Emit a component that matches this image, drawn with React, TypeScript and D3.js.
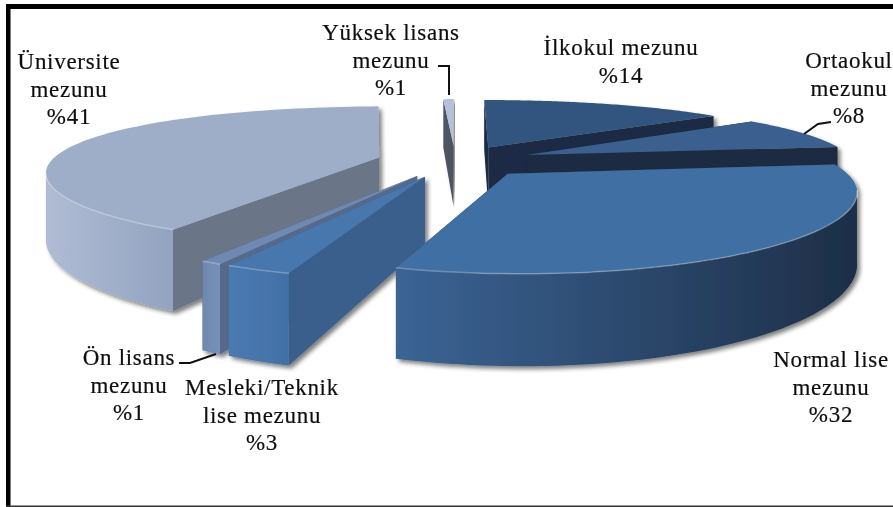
import React from "react";
import * as d3 from "d3";

const categories = ["İlkokul mezunu", "Ortaokul mezunu", "Normal lise mezunu", "Mesleki/Teknik lise mezunu", "Ön lisans mezunu", "Üniversite mezunu", "Yüksek lisans mezunu"];
const values = [14.4, 8.4, 31.7, 2.5, 0.8, 41.2, 0.6];
const labelLines = [
  ["İlkokul mezunu"], ["Ortaokul", "mezunu"], ["Normal lise", "mezunu"], ["Mesleki/Teknik", "lise mezunu"], ["Ön lisans", "mezunu"], ["Üniversite", "mezunu"], ["Yüksek lisans", "mezunu"],
];
const labelAnchors: [number, number][] = [[621, 55], [849, 68], [831, 367], [262, 395], [129, 365], [69, 69], [391, 40]];
const faceColors = ["#31557f", "#3a5f8f", "#416fa3", "#4677ad", "#7089b3", "#9eaec9", "#b4c1da"];
const sideColors = ["#1b2c45", "#1b2b42", "#2a4468", "#3b5e8c", "#56698a", "#6b7488", "#4d5563"];
const wallStops = [["#2f5079", "#1c2d46"], ["#30507a", "#1b2b42"], ["#3b6495", "#1d2e47"], ["#4a7ab2", "#4270a6"], ["#6f88b0", "#7790b8"], ["#b0bcd4", "#92a3c0"], ["#a9b6d0", "#8a97b0"]];
const paintOrder = [0, 6, 1, 5, 4, 3, 2];
const leaders = [
  [[438, 66], [449, 66], [449, 95]],
  [[831, 122], [818, 124], [804, 134]],
  [[179, 363], [190, 363], [216, 354]],
];

const W = 893, H = 507;
const cx = 455, cy = 161, Rx = 328, Ry = 66, persp = 0.26, depth = 64, explode = 0.24;

const pie = d3.pie<number>().sort(null).startAngle(0).endAngle(2 * Math.PI);
const arcs = pie(values);

function project(u: number, v: number, z: number): [number, number] {
  const dy = 1 + persp * v;
  const dx = 1 + 0.182 * v - 0.025 * v * v;
  return [cx + (Rx * u) / dx, cy - (Ry * v) / dy + (z * depth) / dy];
}
const line = d3.line();

function sliceGeom(i: number) {
  const a = arcs[i];
  const mid = (a.startAngle + a.endAngle) / 2;
  const ou = explode * Math.sin(mid), ov = explode * Math.cos(mid);
  const ts = d3.range(0, 81).map((k) => a.startAngle + ((a.endAngle - a.startAngle) * k) / 80);
  const top = ts.map((t) => project(ou + Math.sin(t), ov + Math.cos(t), 0));
  const front = ts.filter((t) => Math.cos(t) < -0.2);
  const ftop = front.map((t) => project(ou + Math.sin(t), ov + Math.cos(t), 0));
  const fbot = front.map((t) => project(ou + Math.sin(t), ov + Math.cos(t), 1));
  const bot0 = project(ou + Math.sin(ts[0]), ov + Math.cos(ts[0]), 1);
  const bot1 = project(ou + Math.sin(ts[80]), ov + Math.cos(ts[80]), 1);
  const apexT = project(ou, ov, 0), apexB = project(ou, ov, 1);
  return { top, ftop, fbot, bot0, bot1, apexT, apexB };
}

export default function App() {
  const geoms = values.map((_, i) => sliceGeom(i));
  return (
    <svg width={W} height={H} viewBox={`0 0 ${W} ${H}`} style={{ position: "absolute", left: 0, top: 0, background: "#fff" }}>
      <defs>
        <filter id="shadow" x="-10%" y="-10%" width="120%" height="125%">
          <feGaussianBlur in="SourceAlpha" stdDeviation="2" />
          <feOffset dx="3" dy="3" />
          <feComponentTransfer><feFuncA type="linear" slope="0.5" /></feComponentTransfer>
          <feMerge><feMergeNode /><feMergeNode in="SourceGraphic" /></feMerge>
        </filter>
        <filter id="soft"><feGaussianBlur stdDeviation="0.35" /></filter>
        {geoms.map((g, i) => {
          const xs = g.fbot.map((p) => p[0]);
          return (
            <linearGradient key={i} id={`wall${i}`} gradientUnits="userSpaceOnUse" x1={d3.min(xs) ?? 0} x2={d3.max(xs) ?? 1} y1={0} y2={0}>
              <stop offset="0" stopColor={wallStops[i][0]} />
              <stop offset="1" stopColor={wallStops[i][1]} />
            </linearGradient>
          );
        })}
      </defs>
      <rect x={0} y={0} width={W} height={H} fill="#fff" />
      {paintOrder.map((i) => {
        const g = geoms[i];
        const n = g.top.length - 1;
        const startWall = [g.apexT, g.top[0], g.bot0, g.apexB] as [number, number][];
        const endWall = [g.apexT, g.top[n], g.bot1, g.apexB] as [number, number][];
        const outer = [...g.ftop, ...[...g.fbot].reverse()] as [number, number][];
        const face = [g.apexT, ...g.top] as [number, number][];
        return (
          <g key={i} filter="url(#shadow)" aria-label={categories[i]}>
            <path d={line(startWall) + "Z"} fill={sideColors[i]} />
            <path d={line(endWall) + "Z"} fill={sideColors[i]} />
            {outer.length > 0 && <path d={line(outer) + "Z"} fill={`url(#wall${i})`} />}
            <path d={line(face) + "Z"} fill={faceColors[i]} />
            {g.ftop.length > 1 && (
              <path d={line(g.ftop as [number, number][]) ?? ""} fill="none" stroke="#fff" strokeOpacity={0.28} strokeWidth={1.5} />
            )}
          </g>
        );
      })}
      {leaders.map((l, i) => (
        <path key={i} d={line(l as [number, number][]) ?? ""} fill="none" stroke="#111" strokeWidth={2} />
      ))}
      <g fontFamily="Liberation Serif" fontSize={23} fill="#111" stroke="#111" strokeWidth={0.2} textAnchor="middle" letterSpacing={0.7} filter="url(#soft)">
        {labelLines.map((ls, i) => {
          const [x, y] = labelAnchors[i];
          const all = [...ls, `%${Math.round(values[i])}`];
          return (
            <text key={i} x={x} y={y}>
              {all.map((s, k) => (
                <tspan key={k} x={x} y={y + k * 27.5}>{s}</tspan>
              ))}
            </text>
          );
        })}
      </g>
      <rect x={6} y={4} width={W} height={5} fill="#000" />
      <rect x={6} y={4} width={4.5} height={H} fill="#000" />
      <rect x={6} y={505.5} width={W} height={1.5} fill="#333" />
    </svg>
  );
}
